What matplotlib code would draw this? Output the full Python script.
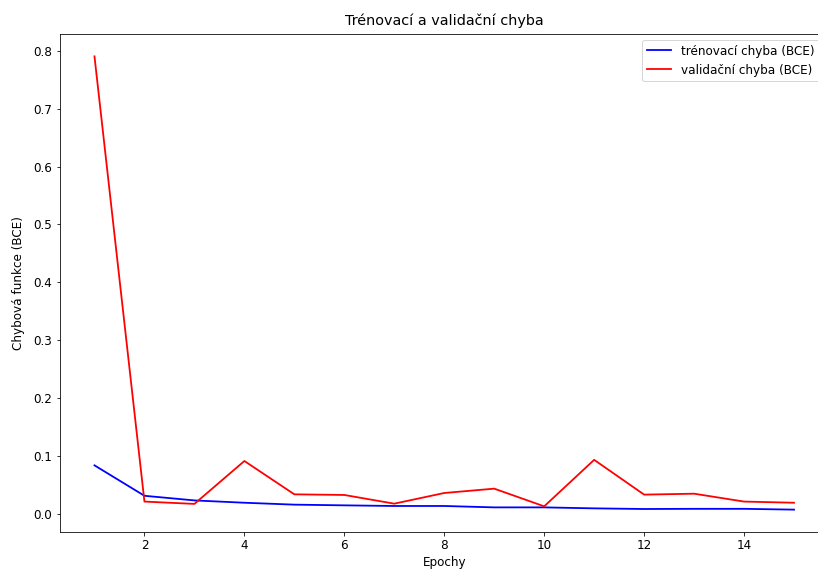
import matplotlib
matplotlib.use('Agg')
import matplotlib.pyplot as plt

epochs = list(range(1, 16))
train_loss = [0.0845, 0.032, 0.024, 0.020, 0.0167, 0.0155, 0.0144, 0.0144,
              0.012, 0.012, 0.0103, 0.0092, 0.0095, 0.0095, 0.0081]
val_loss = [0.79, 0.022, 0.018, 0.092, 0.0345, 0.0334, 0.0184, 0.0368,
            0.0443, 0.0138, 0.094, 0.034, 0.0356, 0.022, 0.020]

plt.rcParams['font.size'] = 12

W, H = 818, 569
fig = plt.figure(figsize=(W / 72, H / 72), dpi=72)
# axes runs past the right edge like in the reference (cropped screenshot)
ax = fig.add_axes([59.5 / W, (H - 532.3) / H, (829 - 59.5) / W, (532.3 - 33.7) / H])

ax.plot(epochs, train_loss, 'b', lw=1.8, label='trénovací chyba (BCE)')
ax.plot(epochs, val_loss, 'r', lw=1.8, label='validační chyba (BCE)')

ax.set_title('Trénovací a validační chyba', pad=9)
ax.set_xlabel('Epochy')
ax.set_ylabel('Chybová funkce (BCE)', labelpad=8)
ax.legend(loc='upper right', bbox_to_anchor=(0.995, 1.0))

fig.savefig('out.png', dpi=72)
